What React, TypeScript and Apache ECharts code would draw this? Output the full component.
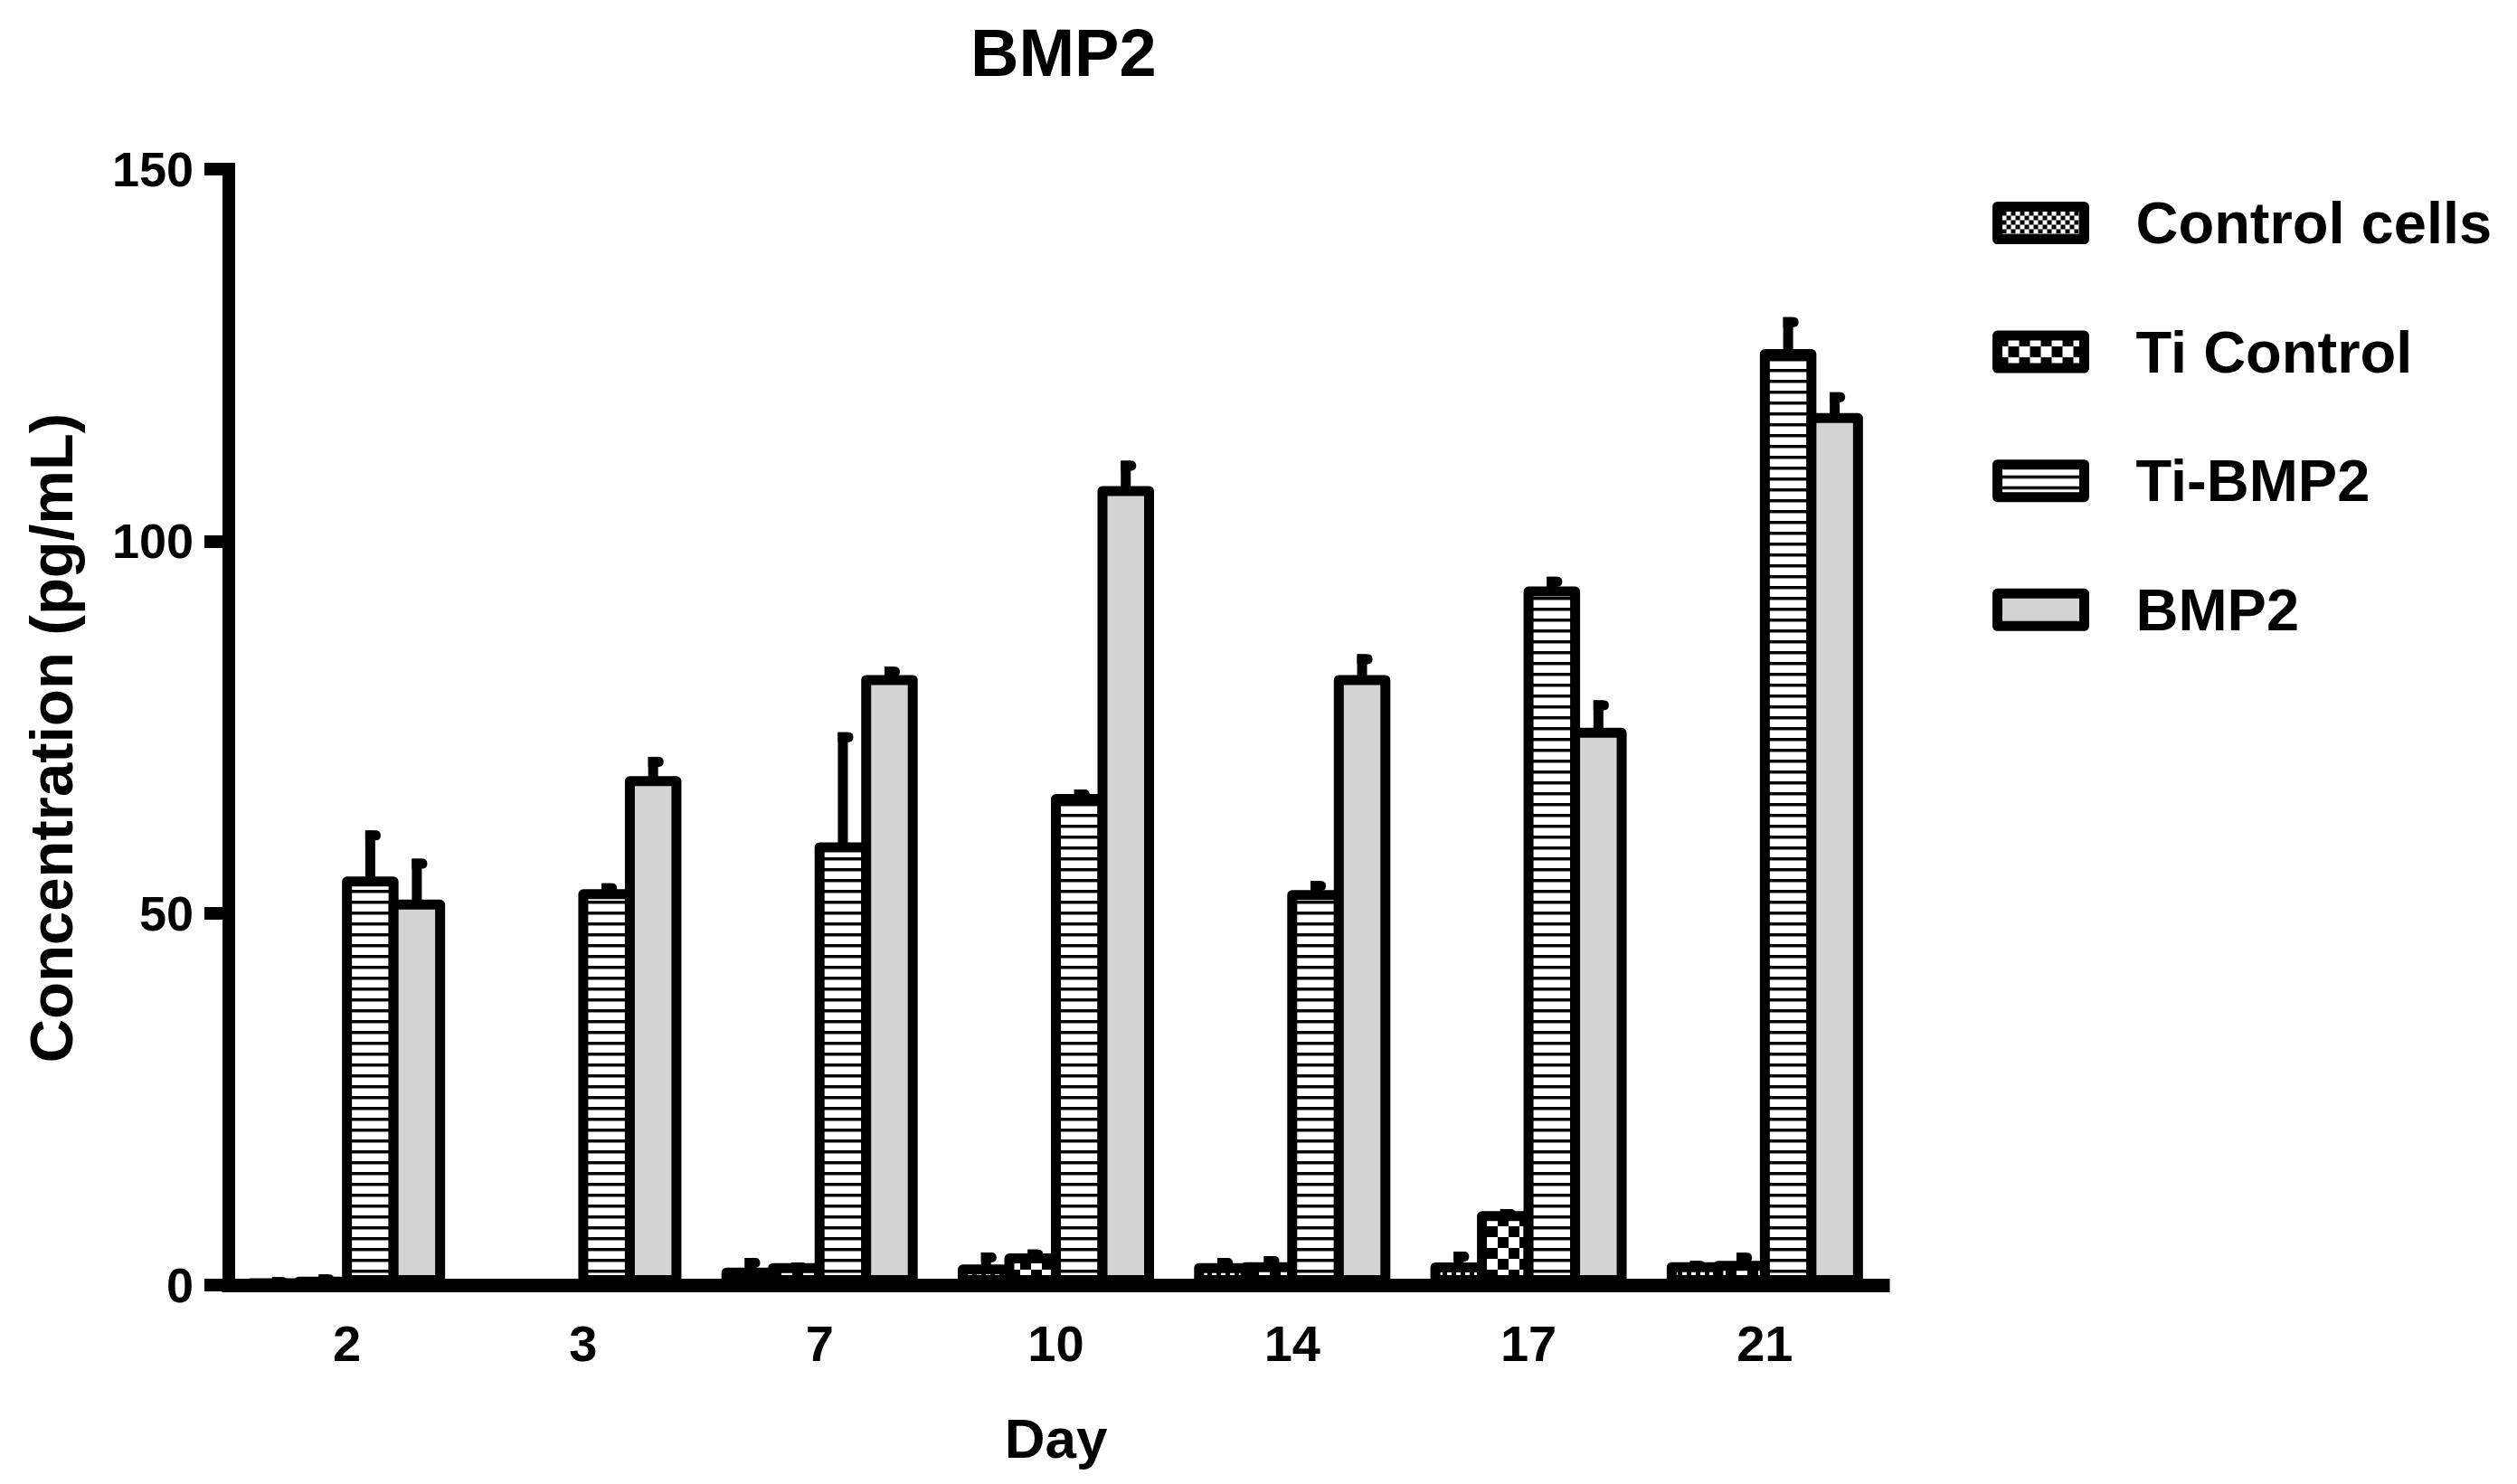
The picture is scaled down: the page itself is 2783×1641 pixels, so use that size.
import React, { useEffect, useRef } from 'react';
import * as echarts from 'echarts';

// ---- data ----
const days = ['2', '3', '7', '10', '14', '17', '21'];
const seriesNames = ['Control cells', 'Ti Control', 'Ti-BMP2', 'BMP2'];
const controlCells = [0.5, 0.3, 2.35, 2.76, 2.96, 3.04, 3.08];
const controlCellsSd = [0.55, 0.5, 1.3, 1.62, 0.69, 1.46, 0.16];
const tiControl = [0.93, 0.0, 2.96, 4.25, 3.08, 9.93, 3.24];
const tiControlSd = [0.49, 0.0, 0.08, 0.53, 0.81, 0.27, 1.1];
const tiBmp2 = [54.9, 53.2, 59.5, 66.0, 53.1, 93.9, 125.8];
const tiBmp2Sd = [6.2, 0.8, 14.8, 0.6, 1.2, 1.3, 4.3];
const bmp2 = [51.8, 68.4, 82.0, 107.4, 82.0, 74.9, 117.2];
const bmp2Sd = [5.5, 2.6, 1.1, 3.4, 2.8, 3.7, 2.8];
const yMin = 0;
const yMax = 150;
const yInterval = 50;

const FONT = '"Liberation Sans", Arial, Helvetica, sans-serif';
const BORDER = 11;
const BAR_OUTER = 62.5; // outer width of one bar (border drawn inside by ECharts)
const BAR_STEP = BAR_OUTER - BORDER; // neighbouring bars share one border

function checker(size: number) {
  const c = document.createElement('canvas');
  c.width = size * 2;
  c.height = size * 2;
  const ctx = c.getContext('2d')!;
  ctx.fillStyle = '#fff';
  ctx.fillRect(0, 0, size * 2, size * 2);
  ctx.fillStyle = '#000';
  ctx.fillRect(0, 0, size, size);
  ctx.fillRect(size, size, size, size);
  return { image: c, repeat: 'repeat', imageWidth: size * 2, imageHeight: size * 2 };
}

function stripes() {
  const c = document.createElement('canvas');
  c.width = 4;
  c.height = 12;
  const ctx = c.getContext('2d')!;
  ctx.fillStyle = '#fff';
  ctx.fillRect(0, 0, 4, 12);
  ctx.fillStyle = '#000';
  ctx.fillRect(0, 0, 4, 3);
  ctx.fillStyle = '#8a8a8a';
  ctx.fillRect(0, 3, 4, 1);
  return { image: c, repeat: 'repeat', imageWidth: 4, imageHeight: 12 };
}

export default function App() {
  const ref = useRef<HTMLDivElement>(null);
  useEffect(() => {
    if (!ref.current) return;
    const chart = echarts.init(ref.current, null, { renderer: 'svg' });
    const fills: any[] = [checker(5), checker(12), stripes(), '#d3d3d3'];
    const values = [controlCells, tiControl, tiBmp2, bmp2];
    const sds = [controlCellsSd, tiControlSd, tiBmp2Sd, bmp2Sd];
    const gapPct = (-BORDER / BAR_OUTER) * 100 + '%';

    const barSeries = seriesNames.map((name, k) => ({
      type: 'bar',
      name,
      data: values[k],
      barWidth: BAR_OUTER,
      barGap: gapPct,
      z: 2,
      itemStyle: {
        color: fills[k],
        borderColor: '#000',
        borderWidth: BORDER,
        borderJoin: 'round',
      },
    }));

    const errSeries = seriesNames.map((name, k) => {
      const offset = (k - 1.5) * BAR_STEP;
      return {
        type: 'custom',
        name: 'err-' + name,
        z: 3,
        data: days.map((_, i) => [i, values[k][i], values[k][i] + sds[k][i]]),
        encode: { x: 0, y: [1, 2] },
        renderItem: (params: any, api: any) => {
          const ci = api.value(0);
          const v = api.value(1);
          const e = api.value(2);
          if (!(e > v)) return { type: 'group', children: [] };
          const base = api.coord([ci, v]);
          const top = api.coord([ci, e]);
          const x = base[0] + offset;
          return {
            type: 'group',
            children: [
              {
                type: 'rect',
                shape: { x: x - 5.5, y: top[1], width: 11, height: Math.max(0, base[1] - top[1]) + 2 },
                style: { fill: '#000' },
              },
              {
                type: 'rect',
                shape: { x: x - 5.5, y: top[1], width: 17, height: 11, r: [0, 5, 5, 0] },
                style: { fill: '#000' },
              },
            ],
          };
        },
      };
    });

    chart.setOption({
      animation: false,
      backgroundColor: '#fff',
      title: {
        text: 'BMP2',
        left: 1073,
        top: 21,
        padding: 0,
        textStyle: { fontFamily: FONT, fontSize: 74, fontWeight: 'bold', color: '#000' },
      },
      legend: {
        data: seriesNames,
        orient: 'vertical',
        left: 2198,
        top: 209,
        itemWidth: 96,
        itemHeight: 36,
        itemGap: 77.6,
        icon: 'rect',
        selectedMode: false,
        itemStyle: { borderWidth: BORDER, borderColor: '#000' },
        textStyle: {
          fontFamily: FONT,
          fontSize: 65,
          fontWeight: 'bold',
          color: '#000',
          lineHeight: 62,
          padding: [0, 0, 0, 52],
        },
      },
      grid: { left: 253, right: 701, top: 187, bottom: 220, containLabel: false },
      xAxis: {
        type: 'category',
        data: days,
        name: 'Day',
        nameLocation: 'middle',
        nameGap: 138,
        nameTextStyle: { fontFamily: FONT, fontSize: 62, fontWeight: 'bold', color: '#000' },
        axisLine: { lineStyle: { color: '#000', width: 15, cap: 'square' } },
        axisTick: { alignWithLabel: true, length: 19, lineStyle: { color: '#000', width: 13 } },
        axisLabel: { margin: 36, fontFamily: FONT, fontSize: 56, fontWeight: 'bold', color: '#000' },
        splitLine: { show: false },
      },
      yAxis: {
        type: 'value',
        min: yMin,
        max: yMax,
        interval: yInterval,
        name: 'Concentration (pg/mL)',
        nameLocation: 'middle',
        nameGap: 163,
        nameTextStyle: {
          fontFamily: FONT,
          fontSize: 67,
          fontWeight: 'bold',
          color: '#000',
          padding: [0, 24, 0, 0],
        },
        axisLine: { show: true, lineStyle: { color: '#000', width: 14, cap: 'square' } },
        axisTick: { show: true, length: 27, lineStyle: { color: '#000', width: 14 } },
        axisLabel: { margin: 39, fontFamily: FONT, fontSize: 54, fontWeight: 'bold', color: '#000' },
        splitLine: { show: false },
      },
      series: [...barSeries, ...errSeries],
    });
    return () => chart.dispose();
  }, []);
  return (
    <div
      ref={ref}
      style={{ position: 'fixed', left: 0, top: 0, width: 2783, height: 1641, background: '#fff' }}
    />
  );
}
